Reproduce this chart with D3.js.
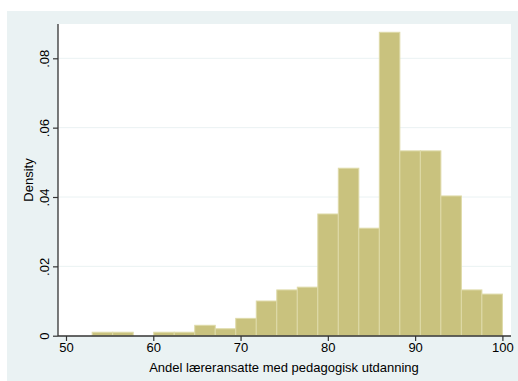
<!DOCTYPE html>
<html><head><meta charset="utf-8">
<script src="https://cdn.jsdelivr.net/npm/d3@7"></script>
<style>body{margin:0;background:#fff}svg{display:block}text{font-family:"Liberation Sans",Arial,sans-serif}</style>
</head><body>
<svg id="c" width="518" height="381"></svg>
<script>
const binStart = 53.0;
const binWidth = 2.35;
const densities = [0.001,0.001,0,0.001,0.001,0.003,0.002,0.005,0.010,0.0132,0.014,0.0351,0.0483,0.031,0.0875,0.0533,0.0533,0.0403,0.0132,0.012];
const xTicks = [50,60,70,80,90,100];
const yTicks = [0,0.02,0.04,0.06,0.08];
const yTickLabels = ["0",".02",".04",".06",".08"];
const xTitle = "Andel læreransatte med pedagogisk utdanning";
const yTitle = "Density";

const svg = d3.select("#c");
svg.append("rect").attr("x",7).attr("y",11).attr("width",511).attr("height",370).attr("fill","#eaf2f3");
const L=58,R=511,T=24,B=336;
svg.append("rect").attr("x",L).attr("y",T).attr("width",R-L).attr("height",B-T).attr("fill","#fff");

const x = d3.scaleLinear().domain([50,100]).range([66,502.4]);
const y = d3.scaleLinear().domain([0,0.08]).range([335.7,58.3]);

// grid
svg.append("g").selectAll("line").data(yTicks.slice(1)).join("line")
  .attr("x1",L).attr("x2",R).attr("y1",d=>y(d)).attr("y2",d=>y(d))
  .attr("stroke","#eaf2f3").attr("stroke-width",1);

// bars
svg.append("g").selectAll("rect").data(densities.map((d,i)=>({d,i}))).join("rect")
  .filter(o=>o.d>0)
  .attr("x",o=>x(binStart+o.i*binWidth))
  .attr("width",o=>x(binStart+(o.i+1)*binWidth)-x(binStart+o.i*binWidth))
  .attr("y",o=>y(o.d))
  .attr("height",o=>y(0)-y(o.d))
  .attr("fill","#c9c27e").attr("stroke","#dedaa8").attr("stroke-width",1);

// axes
const xAxis = d3.axisBottom(x).tickValues(xTicks).tickSize(5).tickPadding(2).tickFormat(d3.format("d"));
const gx = svg.append("g").attr("transform",`translate(0,${B})`).call(xAxis);
gx.select(".domain").attr("d",`M${L},0H${R}`).attr("stroke","#333").attr("stroke-width",1.3);
gx.selectAll(".tick line").attr("stroke","#333").attr("stroke-width",1.2);
gx.selectAll(".tick text").attr("font-size",13).attr("fill","#000");

const yAxis = d3.axisLeft(y).tickValues(yTicks).tickSize(5).tickFormat((d,i)=>yTickLabels[i]);
const gy = svg.append("g").attr("transform",`translate(${L},0)`).call(yAxis);
gy.select(".domain").attr("d",`M0,${B}V${T}`).attr("stroke","#333").attr("stroke-width",1.3);
gy.selectAll(".tick line").attr("stroke","#333").attr("stroke-width",1.2);
gy.selectAll(".tick text").attr("font-size",13).attr("fill","#000")
  .attr("transform","rotate(-90)").attr("x",0).attr("y",-9).attr("dy","0").attr("text-anchor","middle")
  .attr("dominant-baseline","auto");

svg.append("text").attr("x",284).attr("y",372).attr("text-anchor","middle").attr("font-size",13).text(xTitle);
svg.append("text").attr("transform",`translate(33,${(T+B)/2}) rotate(-90)`).attr("text-anchor","middle").attr("font-size",13).text(yTitle);
</script>
</body></html>
